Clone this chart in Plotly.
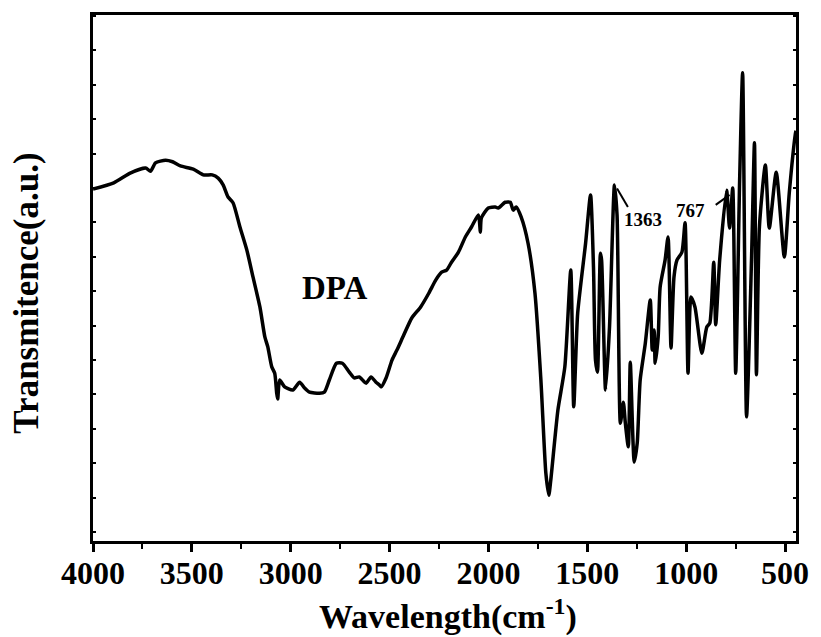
import plotly.graph_objects as go

# FTIR spectrum of DPA: wavenumber (cm-1) and transmittance (a.u.)
wavenumber = [
    4000, 3895, 3809, 3734, 3709, 3684, 3633, 3598, 3558, 3493, 3442, 3397, 3367,
    3342, 3317, 3292, 3257, 3222, 3191, 3156, 3131, 3116, 3096, 3081, 3071, 3066,
    3056, 3031, 2990, 2955, 2930, 2905, 2855, 2830, 2805, 2769, 2739, 2704, 2679,
    2654, 2619, 2594, 2569, 2553, 2543, 2518, 2488, 2463, 2428, 2388, 2343, 2302,
    2267, 2237, 2212, 2187, 2152, 2117, 2086, 2051, 2041, 2036, 2001, 1966, 1951,
    1916, 1890, 1875, 1860, 1835, 1800, 1765, 1735, 1710, 1695, 1685, 1649, 1614,
    1584, 1569, 1549, 1509, 1484, 1469, 1459, 1449, 1434, 1428, 1408, 1388, 1363,
    1350, 1333, 1318, 1308, 1293, 1283, 1263, 1248, 1233, 1207, 1182, 1172, 1162,
    1157, 1142, 1132, 1107, 1092, 1077, 1062, 1047, 1022, 1006, 991, 976, 956,
    921, 896, 881, 861, 851, 831, 796, 781, 765, 750, 730, 715, 695, 670, 655,
    645, 630, 600, 580, 545, 504, 479, 449, 445,
]
transmittance = [
    66.9, 68.1, 70.0, 70.9, 70.3, 71.9, 72.4, 72.1, 71.3, 70.7, 69.6, 69.6, 69.0,
    67.7, 65.4, 64.3, 59.7, 55.3, 50.2, 44.5, 38.8, 36.9, 33.1, 31.9, 28.1, 27.0,
    30.6, 29.3, 28.7, 30.2, 29.1, 28.3, 28.1, 28.3, 30.6, 33.8, 33.8, 32.1, 31.0,
    31.2, 30.0, 31.2, 30.2, 29.7, 29.3, 31.0, 34.4, 36.3, 39.2, 42.4, 44.5, 47.1,
    49.6, 51.1, 51.5, 53.0, 54.9, 57.8, 59.7, 62.0, 58.7, 61.4, 63.3, 63.5, 63.3,
    64.4, 64.4, 62.9, 63.5, 61.6, 56.6, 47.1, 30.6, 12.9, 8.7, 11.6, 24.9, 33.1,
    51.5, 25.5, 43.3, 56.6, 65.8, 52.0, 34.4, 32.1, 54.7, 53.4, 28.7, 40.7, 67.7,
    62.0, 22.4, 26.4, 22.4, 17.9, 34.0, 15.0, 18.6, 30.6, 37.6, 45.8, 36.3, 40.1,
    33.8, 38.8, 48.3, 53.4, 57.8, 36.7, 50.2, 53.4, 54.9, 60.5, 31.9, 46.4, 44.5,
    35.7, 40.7, 41.4, 53.0, 41.1, 53.4, 66.7, 59.5, 67.1, 31.9, 68.6, 89.0, 23.6,
    53.4, 75.7, 31.6, 59.7, 71.5, 59.5, 70.1, 54.0, 66.2, 77.2, 78.0,
]

x_ticks = [4000, 3500, 3000, 2500, 2000, 1500, 1000, 500]
x_range = [4000, 445]
y_range = [0, 100]

# labelled peaks: (text, leader start, leader end, text position)
peak_labels = [
    ("1363", (1350, 67.0), (1295, 63.5), (1217, 61.2)),
    ("767", (851, 63.9), (781, 65.8), (976, 62.9)),
]

FONT = "Liberation Serif"

fig = go.Figure()
fig.add_trace(go.Scatter(
    x=wavenumber, y=transmittance, mode="lines",
    line=dict(color="black", width=3.5, shape="spline", smoothing=0.6),
    showlegend=False,
))

for text, p0, p1, pt in peak_labels:
    fig.add_shape(type="line", xref="x", yref="y",
                  x0=p0[0], y0=p0[1], x1=p1[0], y1=p1[1],
                  line=dict(color="black", width=2))
    fig.add_annotation(x=pt[0], y=pt[1], xref="x", yref="y", text=f"<b>{text}</b>",
                       showarrow=False,
                       font=dict(family=FONT, size=19, color="black"))

fig.add_annotation(x=2775, y=48.1, xref="x", yref="y", text="<b>DPA</b>",
                   showarrow=False, font=dict(family=FONT, size=33, color="black"))

# axis titles
fig.add_annotation(x=0.505, y=-0.139, xref="paper", yref="paper",
                   text="<b>Wavelength(cm<sup>-1</sup>)</b>", showarrow=False,
                   xanchor="center", yanchor="middle",
                   font=dict(family=FONT, size=34, color="black"))
fig.add_annotation(x=-0.094, y=0.472, xref="paper", yref="paper",
                   text="<b>Transmitence(a.u.)</b>", showarrow=False, textangle=-90,
                   xanchor="center", yanchor="middle",
                   font=dict(family=FONT, size=35, color="black"))

fig.update_xaxes(
    range=x_range, tickvals=x_ticks, ticktext=[f"<b>{v}</b>" for v in x_ticks],
    ticks="outside", ticklen=8, tickwidth=2.5, ticklabelstandoff=-6,
    tickcolor="black", showline=True, linewidth=3, linecolor="black", mirror=True,
    showgrid=False, zeroline=False,
    tickfont=dict(family=FONT, size=32, color="black"),
    minor=dict(dtick=250, tick0=500, ticks="outside", ticklen=5, tickwidth=2,
               tickcolor="black", showgrid=False),
)
fig.update_yaxes(
    range=y_range, tick0=1.7, dtick=6.54, ticks="inside", ticklen=3, tickwidth=2,
    tickcolor="black", showticklabels=False, showline=True, linewidth=3,
    linecolor="black", mirror="ticks", showgrid=False, zeroline=False,
)

fig.update_layout(
    width=821, height=637,
    margin=dict(l=93, r=21, t=15, b=96),
    paper_bgcolor="white", plot_bgcolor="white",
    font=dict(family=FONT, color="black"),
)

fig.write_html("out.html")
